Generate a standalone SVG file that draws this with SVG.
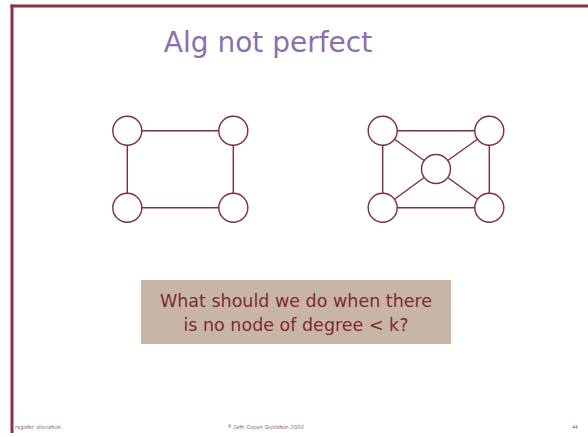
<svg xmlns="http://www.w3.org/2000/svg" width="588" height="437" viewBox="0 0 588 437">
<style>
.node{fill:#fff;stroke:#7e2f37;stroke-width:1.4}
.edge{stroke:#7e2f37;stroke-width:1.4;fill:none}
.foot{font-family:"Comic Neue","Liberation Sans",sans-serif;font-size:6px;fill:#7a3a40}
.q{font-family:"DejaVu Sans",sans-serif;font-size:17.5px;fill:#7e2a33;text-anchor:middle}
</style>
<rect width="588" height="437" fill="#fff"/>
<g id="frame">
<line x1="10.5" y1="6" x2="588" y2="6" stroke="#853642" stroke-width="3"/>
<line x1="12" y1="4.5" x2="12" y2="433" stroke="#853642" stroke-width="3"/>
</g>
<text id="title" x="268" y="52" font-family="DejaVu Sans, sans-serif" font-size="28" fill="#8b6fb0" text-anchor="middle">Alg not perfect</text>
<g id="connectors">
<line class="edge" x1="127.3" y1="130.7" x2="233.3" y2="130.7"/>
<line class="edge" x1="127.3" y1="207.7" x2="233.3" y2="207.7"/>
<line class="edge" x1="127.3" y1="130.7" x2="127.3" y2="207.7"/>
<line class="edge" x1="233.3" y1="130.7" x2="233.3" y2="207.7"/>
<line class="edge" x1="382.7" y1="130.7" x2="489.3" y2="130.7"/>
<line class="edge" x1="382.7" y1="207.7" x2="489.3" y2="207.7"/>
<line class="edge" x1="382.7" y1="130.7" x2="382.7" y2="207.7"/>
<line class="edge" x1="489.3" y1="130.7" x2="489.3" y2="207.7"/>
<line class="edge" x1="382.7" y1="130.7" x2="436" y2="169"/>
<line class="edge" x1="489.3" y1="130.7" x2="436" y2="169"/>
<line class="edge" x1="382.7" y1="207.7" x2="436" y2="169"/>
<line class="edge" x1="489.3" y1="207.7" x2="436" y2="169"/>
</g>
<g id="a1"><circle class="node" cx="127.3" cy="130.7" r="14.5"/></g>
<g id="a2"><circle class="node" cx="233.3" cy="130.7" r="14.5"/></g>
<g id="a3"><circle class="node" cx="127.3" cy="207.7" r="14.5"/></g>
<g id="a4"><circle class="node" cx="233.3" cy="207.7" r="14.5"/></g>
<g id="b1"><circle class="node" cx="382.7" cy="130.7" r="14.5"/></g>
<g id="b2"><circle class="node" cx="489.3" cy="130.7" r="14.5"/></g>
<g id="b3"><circle class="node" cx="382.7" cy="207.7" r="14.5"/></g>
<g id="b4"><circle class="node" cx="489.3" cy="207.7" r="14.5"/></g>
<g id="b5"><circle class="node" cx="436" cy="169" r="14.5"/></g>
<g id="question">
<rect x="141" y="280" width="310" height="64" fill="#c8b5a6"/>
<text class="q" x="296" y="307">What should we do when there</text>
<text class="q" x="296" y="331">is no node of degree &lt; k?</text>
</g>
<g id="footer">
<text class="foot" x="15" y="429">register allocation</text>
<text class="foot" x="266" y="429" text-anchor="middle">© Seth Copen Goldstein 2002</text>
<text class="foot" x="578" y="429" text-anchor="end">44</text>
</g>
</svg>
